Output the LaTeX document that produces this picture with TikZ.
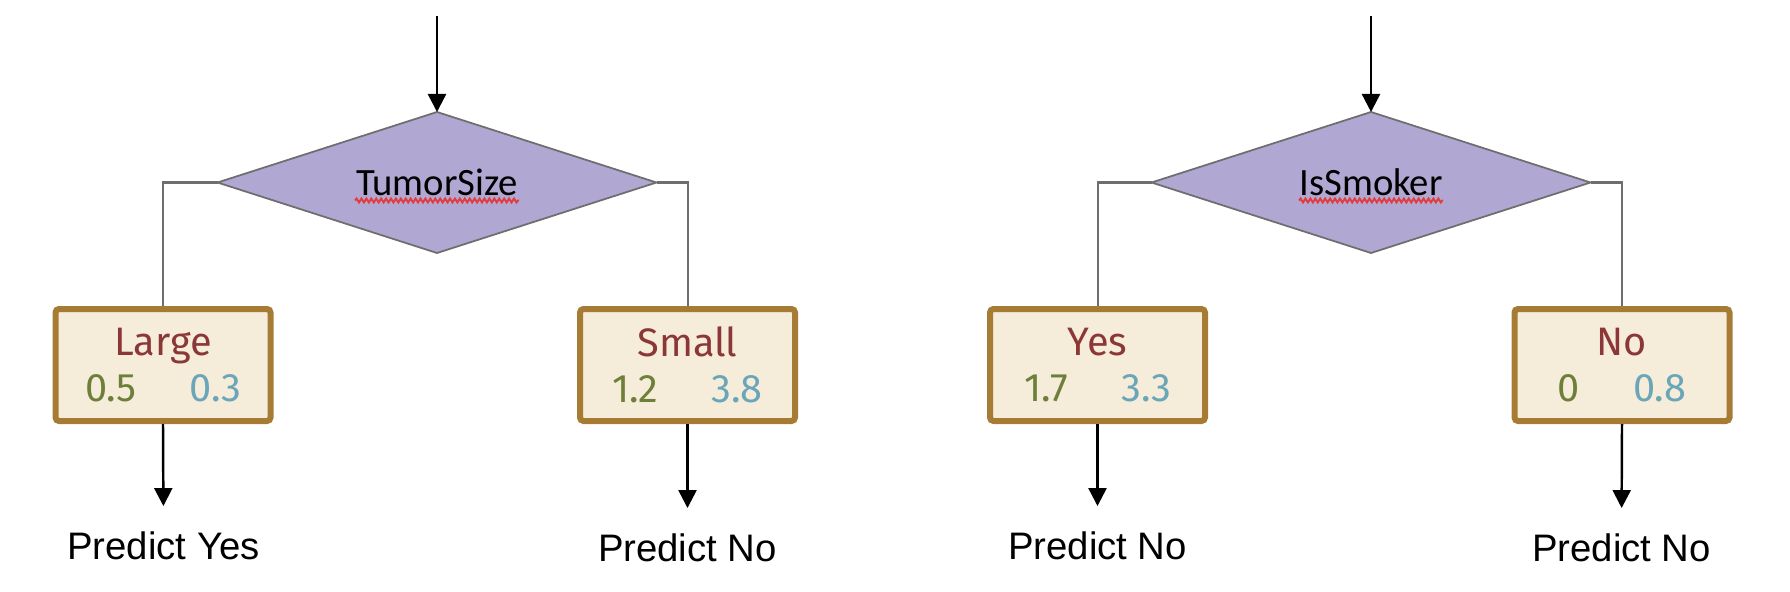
\documentclass[tikz,border=0pt]{standalone}
\usepackage{fontspec}
\setmainfont{Liberation Sans}
\newfontfamily\leaffont{Fira Sans}
\newfontfamily\splitfont{Carlito}
\usetikzlibrary{arrows.meta, shapes.geometric, decorations.pathmorphing}

\definecolor{splitfill}{RGB}{177,167,211}
\definecolor{splitline}{RGB}{110,110,110}
\definecolor{leaffill}{RGB}{245,236,218}
\definecolor{leafline}{RGB}{166,124,53}
\definecolor{leaftext}{RGB}{140,55,55}
\definecolor{valA}{RGB}{110,127,58}
\definecolor{valB}{RGB}{106,165,184}
\definecolor{spellred}{RGB}{228,60,60}

\tikzset{
  split/.style={diamond, draw=splitline, fill=splitfill, line width=0.5pt,
    minimum width=4.39cm, minimum height=1.41cm, inner sep=0pt, outer sep=0pt,
    font=\splitfont\fontsize{11}{12}\selectfont},
  leaf/.style={rectangle, draw=leafline, fill=leaffill, line width=0.06cm,
    rounded corners=1pt, minimum width=2.15cm, minimum height=1.12cm,
    inner sep=0pt, align=center, text=leaftext,
    font=\leaffont\fontsize{11.3}{13.1}\selectfont},
  predict/.style={inner sep=0pt, anchor=base, font=\fontsize{10.9}{13}\selectfont},
  branch/.style={draw=splitline, line width=0.57pt},
  flow/.style={-{Triangle[width=0.18cm,length=0.18cm]}, line width=0.7pt},
  squiggle/.style={draw=spellred, line width=0.55pt, decorate,
    decoration={snake, amplitude=0.55pt, segment length=1.4pt}}
}
\newcommand{\leafvals}[2]{\textcolor{valA}{#1}\hspace{0.53cm}\textcolor{valB}{#2}}

\begin{document}
\begin{tikzpicture}
    \useasboundingbox (0,0) rectangle (17.9,-5.92);

    \coordinate (inT) at (4.37,-0.16);
    \coordinate (inS) at (13.71,-0.16);

    \node[split] (tumor) at (4.37,-1.825) {\makebox[0pt]{TumorSize}};
    \node[leaf] (large) at (1.63,-3.65) {Large\\\leafvals{0.5}{0.3}};
    \node[leaf] (small) at (6.875,-3.65) {Small\\\leafvals{1.2}{3.8}};
    \node[predict] (pyes) at (1.635,-5.59) {Predict Yes};
    \node[predict] (pnoS) at (6.875,-5.61) {Predict No};

    \draw[flow] (inT) -- (tumor.north);
    \draw[branch] (tumor.west) -| (large.north);
    \draw[branch] (tumor.east) -| (small.north);
    \draw[flow, shorten >=0.245cm] (large.south) -- (pyes.north);
    \draw[flow, shorten >=0.245cm] (small.south) -- (pnoS.north);
    \draw[squiggle] ([shift={(-0.82,-0.18)}]tumor.center) -- ([shift={(0.82,-0.18)}]tumor.center);

    \node[split] (smoker) at (13.71,-1.825) {\makebox[0pt]{IsSmoker}};
    \node[leaf] (yes) at (10.975,-3.65) {Yes\\\leafvals{1.7}{3.3}};
    \node[leaf] (no) at (16.22,-3.65) {No\\\leafvals{0}{0.8}};
    \node[predict] (pnoY) at (10.975,-5.59) {Predict No};
    \node[predict] (pnoN) at (16.215,-5.61) {Predict No};

    \draw[flow] (inS) -- (smoker.north);
    \draw[branch] (smoker.west) -| (yes.north);
    \draw[branch] (smoker.east) -| (no.north);
    \draw[flow, shorten >=0.245cm] (yes.south) -- (pnoY.north);
    \draw[flow, shorten >=0.245cm] (no.south) -- (pnoN.north);
    \draw[squiggle] ([shift={(-0.72,-0.18)}]smoker.center) -- ([shift={(0.72,-0.18)}]smoker.center);

\end{tikzpicture}
\end{document}
